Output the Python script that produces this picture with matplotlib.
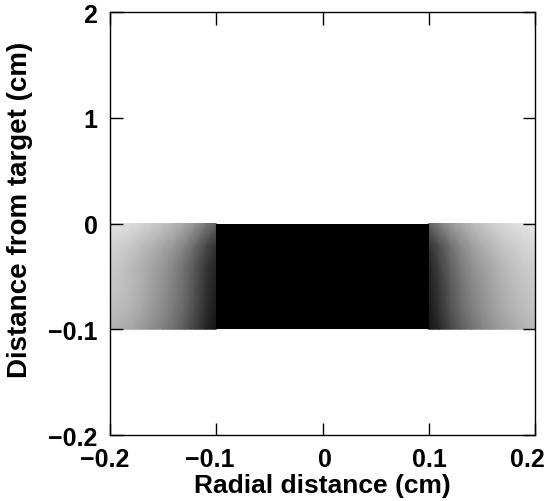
import matplotlib
matplotlib.use("Agg")
import matplotlib.pyplot as plt
from matplotlib.colors import LinearSegmentedColormap
from matplotlib.transforms import ScaledTranslation
import numpy as np

# ---- data ----
# Dense core: hits fill the target region completely
core_x_center = [0.0]
core_width = [0.2]
core_bottom = [-0.1]
core_height = [0.1]

# Scattered halo: fraction of area covered by hits, sampled on a grid of nodes
y_nodes = [-0.1, -0.08, -0.06, -0.04, -0.02, 0.0]
left_x_nodes = [-0.2, -0.19, -0.18, -0.17, -0.16, -0.15, -0.14, -0.13, -0.12, -0.11, -0.1]
left_density = [  # rows from bottom (y=-0.1) to top (y=0)
    [0.30, 0.32, 0.35, 0.40, 0.45, 0.50, 0.57, 0.65, 0.74, 0.85, 0.92],
    [0.25, 0.27, 0.30, 0.34, 0.40, 0.45, 0.52, 0.60, 0.70, 0.82, 0.90],
    [0.22, 0.24, 0.28, 0.32, 0.38, 0.43, 0.50, 0.58, 0.68, 0.80, 0.88],
    [0.21, 0.23, 0.27, 0.31, 0.36, 0.41, 0.48, 0.56, 0.66, 0.78, 0.86],
    [0.17, 0.19, 0.22, 0.26, 0.30, 0.35, 0.40, 0.48, 0.58, 0.70, 0.80],
    [0.11, 0.12, 0.14, 0.17, 0.20, 0.24, 0.28, 0.34, 0.42, 0.52, 0.62],
]
right_x_nodes = [0.1, 0.11, 0.12, 0.13, 0.14, 0.15, 0.16, 0.17, 0.18, 0.19, 0.2]
right_density = [
    [0.92, 0.84, 0.73, 0.64, 0.56, 0.49, 0.43, 0.38, 0.34, 0.30, 0.27],
    [0.90, 0.80, 0.68, 0.58, 0.50, 0.44, 0.38, 0.33, 0.29, 0.26, 0.23],
    [0.88, 0.78, 0.66, 0.56, 0.48, 0.42, 0.36, 0.31, 0.27, 0.24, 0.21],
    [0.86, 0.74, 0.62, 0.52, 0.44, 0.38, 0.33, 0.28, 0.24, 0.21, 0.19],
    [0.80, 0.68, 0.56, 0.46, 0.38, 0.32, 0.27, 0.23, 0.20, 0.17, 0.15],
    [0.62, 0.50, 0.40, 0.33, 0.27, 0.23, 0.19, 0.16, 0.13, 0.11, 0.10],
]

x_ticks = [-0.2, -0.1, 0.0, 0.1, 0.2]
x_tick_labels = ["\u22120.2", "\u22120.1", "0", "0.1", "0.2"]
y_ticks = [-0.2, -0.1, 0.0, 0.1, 0.2]
y_tick_labels = ["\u22120.2", "\u22120.1", "0", "1", "2"]

# ---- plot ----
plt.rcParams["font.family"] = ["Liberation Sans", "DejaVu Sans"]
plt.rcParams["font.weight"] = "bold"

fig = plt.figure(figsize=(5.49, 5.02), dpi=100)
ax = fig.add_axes([110 / 549, 1 - 436 / 502, 425 / 549, 423 / 502])

cmap = LinearSegmentedColormap.from_list("wb", ["white", "black"])
ax.pcolormesh(left_x_nodes, y_nodes, np.array(left_density), cmap=cmap,
              vmin=0, vmax=1, shading="gouraud")
ax.pcolormesh(right_x_nodes, y_nodes, np.array(right_density), cmap=cmap,
              vmin=0, vmax=1, shading="gouraud")
ax.bar(core_x_center, core_height, width=core_width, bottom=core_bottom,
       color="black", linewidth=0)

ax.set_xlim(-0.2, 0.2)
ax.set_ylim(-0.2, 0.2)
ax.set_xticks(x_ticks)
ax.set_xticklabels(x_tick_labels)
ax.set_yticks(y_ticks)
ax.set_yticklabels(y_tick_labels)
ax.tick_params(direction="in", length=9, width=1, top=True, right=True,
               labelsize=18, pad=9, colors="black")
x_shifts_px = [-5, -6, 2, 1, -8]
for lbl, dx in zip(ax.get_xticklabels(), x_shifts_px):
    lbl.set_fontweight("bold")
    lbl.set_transform(lbl.get_transform() + ScaledTranslation(dx / 100, 0, fig.dpi_scale_trans))
for lbl in ax.get_yticklabels():
    lbl.set_fontweight("bold")
for s in ax.spines.values():
    s.set_linewidth(1.0)

ax.set_xlabel("Radial distance (cm)", fontsize=19, fontweight="bold", labelpad=1)
ax.set_ylabel("Distance from target (cm)", fontsize=20, fontweight="bold")
ax.yaxis.set_label_coords(-0.181, 0.534)

fig.savefig("out.png", dpi=100)
